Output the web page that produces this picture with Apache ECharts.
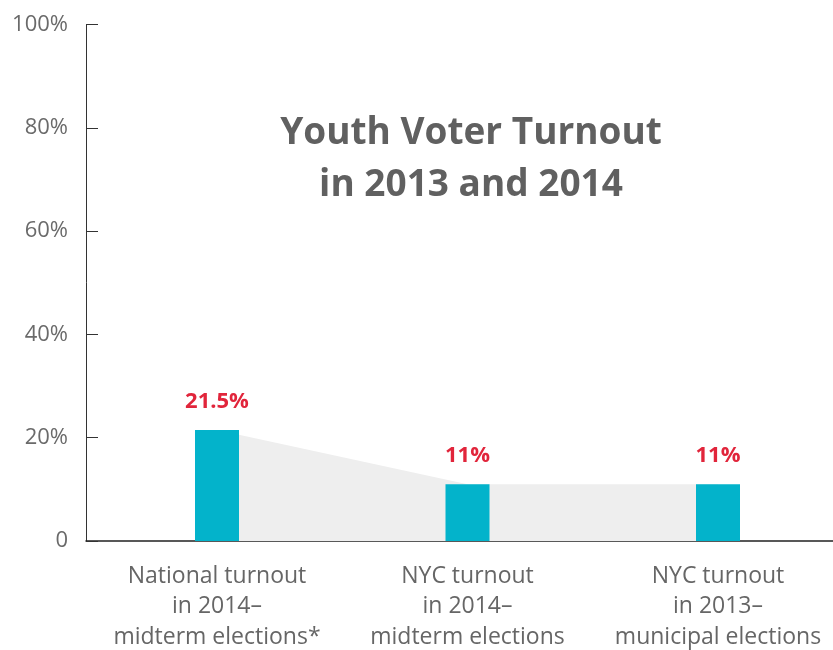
<!DOCTYPE html>
<html>
<head>
<meta charset="utf-8">
<script src="https://cdn.jsdelivr.net/npm/echarts@6/dist/echarts.min.js"></script>
<style>html,body{margin:0;padding:0;background:#fff}#c{width:833px;height:650px}</style>
</head>
<body>
<div id="c"></div>
<script>
var categories = ['National turnout\nin 2014–\nmidterm elections*', 'NYC turnout\nin 2014–\nmidterm elections', 'NYC turnout\nin 2013–\nmunicipal elections'];
var turnout = [21.5, 11, 11];
var valueLabels = ['21.5%', '11%', '11%'];
var yTickValues = [0, 20, 40, 60, 80, 100];
var titleLines = ['Youth Voter Turnout', 'in 2013 and 2014'];

var FONT = 'Open Sans';
var chart = echarts.init(document.getElementById('c'), null, {renderer: 'canvas'});
var top0 = 24.5, bottom0 = 109;
chart.setOption({
  animation: false,
  title: {
    text: titleLines.join('\n'),
    left: 466, top: 102, textAlign: 'center',
    textStyle: {fontFamily: FONT, fontWeight: 'bold', fontSize: 37, color: '#606060', lineHeight: 52}
  },
  grid: [
    {left: 91.75, right: -10.25, top: top0, bottom: bottom0, containLabel: false, outerBoundsMode: 'none'},
    {left: 86, right: -10.25, top: top0, bottom: bottom0, containLabel: false, outerBoundsMode: 'none'}
  ],
  xAxis: [
    {type: 'category', gridIndex: 0, data: categories, boundaryGap: true,
     axisLine: {show: false}, axisTick: {show: false},
     axisLabel: {interval: 0, margin: 20, fontFamily: FONT, fontSize: 23, color: '#666', lineHeight: 30.5}},
    {type: 'category', gridIndex: 1, data: categories, show: true,
     axisLine: {show: true, lineStyle: {color: '#222', width: 1.5}}, axisTick: {show: false}, axisLabel: {show: false}}
  ],
  yAxis: [
    {type: 'value', gridIndex: 0, min: 0, max: 100, interval: 20, show: false},
    {type: 'value', gridIndex: 1, min: 0, max: 100, interval: 20,
     axisLine: {show: true, lineStyle: {color: '#333', width: 1}},
     axisTick: {show: true, inside: true, length: 12, lineStyle: {color: '#333', width: 1}},
     splitLine: {show: false},
     axisLabel: {margin: 18, fontFamily: FONT, fontSize: 22, color: '#6a6a6a',
       formatter: function (v) { return yTickValues.indexOf(v) >= 0 ? (v === 0 ? '0' : v + '%') : ''; }}}
  ],
  series: [
    {type: 'line', xAxisIndex: 0, yAxisIndex: 0, data: turnout, symbol: 'none',
     lineStyle: {width: 0, color: '#eeeeee'}, areaStyle: {color: '#eeeeee', opacity: 1}, z: 1, silent: true},
    {type: 'bar', xAxisIndex: 0, yAxisIndex: 0, data: turnout, barWidth: 44, z: 2,
     itemStyle: {color: '#03b3cb'},
     label: {show: true, position: 'top', distance: 17,
       formatter: function (p) { return valueLabels[p.dataIndex]; },
       fontFamily: FONT, fontWeight: 'bold', fontSize: 22, color: '#e1253b'}}
  ]
});
</script>
</body>
</html>
